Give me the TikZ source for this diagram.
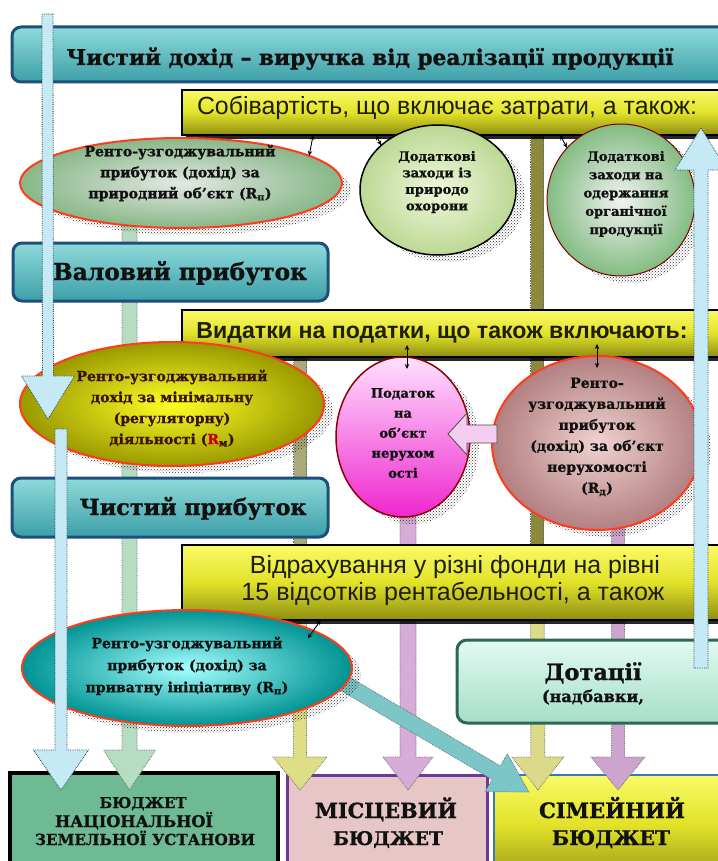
\documentclass[tikz,border=0pt]{standalone}
\usepackage{fontspec}
\setmainfont{DejaVu Serif}[BoldFeatures={FakeBold=1.2}]
\newfontfamily\sansf{Liberation Sans}
\usetikzlibrary{shapes.geometric,calc,patterns,shadows,arrows.meta}
\pgfdeclarelayer{low}
\pgfdeclarelayer{bg}
\pgfdeclarelayer{fg}
\pgfsetlayers{low,bg,main,fg}
\definecolor{boxblue}{HTML}{1D4F7C}
\definecolor{tealA}{HTML}{8FDADA}
\definecolor{tealB}{HTML}{3C9FA8}
\definecolor{yelA}{HTML}{FAFA66}
\definecolor{yelM}{HTML}{E2E22A}
\definecolor{yelB}{HTML}{8E8E12}
\definecolor{redline}{HTML}{FF3B1C}
\definecolor{txtdark}{HTML}{111111}
\definecolor{ytxt}{HTML}{1E1E00}
\definecolor{browntxt}{HTML}{3A1200}
\definecolor{rred}{HTML}{C40000}
\definecolor{colAc}{HTML}{B6DCC2}
\definecolor{colBup}{HTML}{A9A97A}
\definecolor{colBlo}{HTML}{DEDE86}
\definecolor{colCc}{HTML}{D6ACD8}
\definecolor{colDup}{HTML}{8A8A3E}
\definecolor{colDlo}{HTML}{DADA8A}
\definecolor{colEc}{HTML}{CDA4CD}
\definecolor{bluefill}{HTML}{C6EAF5}
\definecolor{bluedraw}{HTML}{2A4656}
\definecolor{tealarr}{HTML}{7CC6C8}
\definecolor{dotgreen}{HTML}{2B6A4E}
\definecolor{dotA}{HTML}{E2FAF2}
\definecolor{dotB}{HTML}{A6DEC8}
\definecolor{budgreen}{HTML}{6DBA95}
\definecolor{budpink}{HTML}{E6C6C6}
\definecolor{budpurple}{HTML}{6B3A96}
\definecolor{budblue}{HTML}{3A78BE}
\definecolor{pinkarr}{HTML}{F4CDF0}
\definecolor{ctwoA}{HTML}{F0F8DC}
\definecolor{ctwoB}{HTML}{BCD894}

\newcommand\fw[2]{\resizebox{#1}{!}{#2}}
% block arrow: start, tip, half shaft width, half head width, head length, style
\newcommand\blockarr[6]{%
  \coordinate (tmpH) at ($(#2)!#5!(#1)$);
  \path[#6] ($(#1)!#3!90:(#2)$) -- ($(tmpH)!#3!90:(#2)$) -- ($(tmpH)!#4!90:(#2)$) -- (#2)
    -- ($(tmpH)!#4!-90:(#2)$) -- ($(tmpH)!#3!-90:(#2)$) -- ($(#1)!#3!-90:(#2)$) -- cycle;}

\begin{document}
\begin{tikzpicture}[x=1pt,y=-1pt,
  every node/.style={inner sep=0pt,outer sep=0pt},
  tealbox/.style={anchor=north west, draw=boxblue, line width=3pt, rounded corners=9pt, top color=tealA, bottom color=tealB},
  yelbox/.style={anchor=north west, draw=black, line width=1.5pt, top color=yelA, bottom color=yelB, middle color=yelM,
     drop shadow={fill=black, opacity=0.85, shadow xshift=4pt, shadow yshift=-4pt}},
  ellshape/.style={ellipse, drop shadow={pattern=crosshatch dots, pattern color=black!80, opacity=1, shadow xshift=9pt, shadow yshift=-7pt}},
  bigtxt/.style={anchor=base, font=\bfseries\fontsize{20}{24}\selectfont, text=txtdark},
  ytxtst/.style={anchor=base, font=\sansf\fontsize{24}{27}\selectfont, text=ytxt},
  elltxt/.style={align=center, text=txtdark, font=\bfseries\fontsize{14}{21}\selectfont},
  colst/.style={draw=black!60, densely dotted, line width=0.7pt, fill=#1},
  bluest/.style={draw=bluedraw, densely dotted, line width=0.8pt, fill=bluefill},
  dbl/.style={{Stealth[length=5pt,width=4.5pt]}-{Stealth[length=5pt,width=4.5pt]}, line width=0.9pt, black}
]
\useasboundingbox (0,0) rectangle (717,861);

% ---------- bottom boxes ----------
\begin{pgfonlayer}{low}
\fill[white] (0,0) rectangle (717,861);
\node[anchor=north west, draw=black, line width=4pt, fill=budgreen, minimum width=268pt, minimum height=100pt] (bnat) at (10,773) {};
\node[anchor=north west, draw=budpurple, line width=3pt, fill=budpink, minimum width=200pt, minimum height=100pt] (bloc) at (287,775) {};
\node[anchor=north west, draw=budblue, line width=2.5pt, top color=yelA, bottom color=yelB!80!yelM, middle color=yelM, minimum width=250pt, minimum height=100pt] (bfam) at (494,775) {};
\end{pgfonlayer}

% ---------- main boxes ----------
\node[tealbox, minimum width=718pt, minimum height=55pt] (top) at (12,27) {};
\node[bigtxt] (toptxt) at (370,65) {\fw{607pt}{Чистий дохід – виручка від реалізації продукції}};

\node[yelbox, minimum width=548pt, minimum height=45pt] (yel1) at (182,90) {};
\node[ytxtst] (yel1t) at (447,115) {\fw{500pt}{Собівартість, що включає затрати, а також:}};

\node[tealbox, minimum width=315pt, minimum height=58pt] (val) at (13,243) {};
\node[bigtxt] (valt) at (180,280) {\fw{254pt}{Валовий прибуток}};

\node[yelbox, minimum width=548pt, minimum height=47pt] (yel2) at (182,310) {};
\node[ytxtst] (yel2t) at (442,338) {\fw{491pt}{\bfseries Видатки на податки, що також включають:}};

\node[tealbox, minimum width=316pt, minimum height=59pt] (net) at (12,478) {};
\node[bigtxt] (nett) at (193,515) {\fw{227pt}{Чистий прибуток}};

\node[yelbox, minimum width=548pt, minimum height=75pt] (yel3) at (182,545) {};
\node[ytxtst] (yel3a) at (455,573) {\fw{410pt}{Відрахування у різні фонди на рівні}};
\node[ytxtst] (yel3b) at (453,600) {\fw{423pt}{15 відсотків рентабельності, а також}};

\node[anchor=north west, draw=dotgreen, line width=3pt, rounded corners=10pt, top color=dotA, bottom color=dotB, minimum width=283pt, minimum height=83pt] (dot) at (457,640) {};
\node[bigtxt] (dott) at (593,680) {\fw{97pt}{Дотації}};
\node[bigtxt] (dott2) at (593,702) {\fw{102pt}{(надбавки,}};

% ---------- ellipses ----------
\node[ellshape, draw=redline, line width=2pt, inner color=green!8!gray!20, outer color=green!25!gray!75, minimum width=322pt, minimum height=90pt] (ell1) at (181,183) {};
\node[elltxt] (ell1t) at (180,173) {Ренто-узгоджувальний\\прибуток (дохід) за\\природний об’єкт (R\textsubscript{п})};

\node[ellshape, draw=black, line width=1.5pt, inner color=ctwoA, outer color=ctwoB, minimum width=156pt, minimum height=130pt] (c2) at (438,190) {};
\node[elltxt, font=\bfseries\fontsize{13}{16.5}\selectfont] (c2t) at (437,182) {Додаткові\\заходи із\\природо\\охорони};

\node[ellshape, draw=red!50!black, line width=1pt, inner color=gray!10, outer color=green!30!gray!75, minimum width=148pt, minimum height=152pt] (c3) at (621,200) {};
\node[elltxt, font=\bfseries\fontsize{13}{18.3}\selectfont] (c3t) at (626,194) {Додаткові\\заходи на\\одержання\\органічної\\продукції};

\node[ellshape, draw=redline, line width=2pt, inner color=yellow!85!white, outer color=yellow!60!black, minimum width=304pt, minimum height=124pt] (ell2) at (172,404) {};
\node[elltxt, text=browntxt] (ell2t) at (172,408) {Ренто-узгоджувальний\\дохід за мінімальну\\(регуляторну)\\діяльності (\textcolor{rred}{R}\textsubscript{м})};

\node[ellshape, draw=red!55!black, line width=1.5pt, top color=magenta!12, bottom color=magenta!70!purple!85, minimum width=134pt, minimum height=160pt] (pink) at (403,437) {};
\node[elltxt, font=\bfseries\fontsize{13}{20}\selectfont] (pinkt) at (403,433) {Податок\\на\\об’єкт\\нерухом\\ості};

\node[ellshape, draw=redline, line width=2pt, inner color=gray!20!pink!60, outer color=red!25!gray!80, minimum width=210pt, minimum height=174pt] (big) at (597,443) {};
\node[elltxt, font=\bfseries\fontsize{14}{21}\selectfont] (bigt) at (597,437) {Ренто-\\узгоджувальний\\прибуток\\(дохід) за об’єкт\\нерухомості\\(R\textsubscript{д})};

\node[ellshape, draw=redline, line width=2pt, inner color=cyan!35!white, outer color=teal!85!cyan, minimum width=330pt, minimum height=116pt] (ell4) at (187,668) {};
\node[elltxt, font=\bfseries\fontsize{14}{22}\selectfont] (ell4t) at (187,666) {Ренто-узгоджувальний\\прибуток (дохід) за\\приватну ініціативу (R\textsubscript{п})};

% left-pointing block arrow between the two lower-right ellipses
\coordinate (pas) at (497,434);
\coordinate (pat) at (448,434);
\blockarr{pas}{pat}{9pt}{21pt}{19pt}{fill=pinkarr, draw=black!70, line width=0.8pt}

% ---------- budget texts ----------
\node[bigtxt, font=\bfseries\fontsize{18}{20}\selectfont] (bn1) at (143,808) {\fw{87pt}{БЮДЖЕТ}};
\node[bigtxt, font=\bfseries\fontsize{18}{20}\selectfont] (bn2) at (134,827) {\fw{158pt}{НАЦІОНАЛЬНОЇ}};
\node[bigtxt, font=\bfseries\fontsize{18}{20}\selectfont] (bn3) at (145,845) {\fw{220pt}{ЗЕМЕЛЬНОЇ УСТАНОВИ}};
\node[bigtxt] (bl1) at (386,818) {\fw{142pt}{МІСЦЕВИЙ}};
\node[bigtxt] (bl2) at (388,845) {\fw{110pt}{БЮДЖЕТ}};
\node[bigtxt] (bf1) at (612,818) {\fw{146pt}{СІМЕЙНИЙ}};
\node[bigtxt] (bf2) at (611,845) {\fw{118pt}{БЮДЖЕТ}};

% ---------- columns behind ----------
\begin{pgfonlayer}{bg}
\coordinate (cAs) at (129.5,225); \coordinate (cAt) at (129.5,790);
\blockarr{cAs}{cAt}{7.5pt}{26pt}{40pt}{colst=colAc}
\coordinate (cBs) at (300,357); \coordinate (cBm) at (300,560); \coordinate (cBt) at (300,790);
\path[colst=colBup] ($(cBs)+(-6.5,0)$) rectangle ($(cBm)+(6.5,0)$);
\blockarr{cBm}{cBt}{6.5pt}{27pt}{33pt}{colst=colBlo}
\coordinate (cCs) at (408,500); \coordinate (cCt) at (408,790);
\blockarr{cCs}{cCt}{8pt}{25pt}{33pt}{colst=colCc}
\coordinate (cDs) at (537,130); \coordinate (cDm) at (537,560); \coordinate (cDt) at (538,790);
\path[colst=colDup] ($(cDs)+(-6.5,0)$) rectangle ($(cDm)+(6.5,0)$);
\blockarr{cDm}{cDt}{7pt}{26pt}{33pt}{colst=colDlo}
\coordinate (cEs) at (618,500); \coordinate (cEt) at (618,790);
\blockarr{cEs}{cEt}{6.5pt}{27pt}{33pt}{colst=colEc}
\coordinate (tds) at (320,669); \coordinate (tdt) at (529,792);
\blockarr{tds}{tdt}{8pt}{22pt}{38pt}{colst=tealarr}
\end{pgfonlayer}

% ---------- front arrows ----------
\begin{pgfonlayer}{fg}
\coordinate (b1s) at (47.5,14); \coordinate (b1t) at (48,419);
\blockarr{b1s}{b1t}{5.5pt}{26.5pt}{43pt}{bluest}
\coordinate (b2s) at (61,429); \coordinate (b2t) at (61,790);
\blockarr{b2s}{b2t}{6pt}{27.5pt}{40pt}{bluest}
\coordinate (b3s) at (701,668); \coordinate (b3t) at (701,128);
\blockarr{b3s}{b3t}{7pt}{26pt}{42pt}{bluest}

\draw[dbl] ($(yel1.south -| ell1.12)+(4,0)$) -- (ell1.12);
\draw[dbl] ($(yel1.south -| c2.142)+(-5,0)$) -- (c2.142);
\draw[dbl] ($(yel1.south -| c3.136)+(-7,0)$) -- (c3.136);
\draw[dbl] ($(pink.north)+(4,-12)$) -- ($(pink.north)+(4,12)$);
\draw[dbl] ($(big.north)+(0,-12)$) -- ($(big.north)+(0,12)$);
\draw[dbl] ($(yel3.south -| ell4.16)+(6,0)$) -- ($(ell4.16)+(-7,7)$);
\end{pgfonlayer}
\end{tikzpicture}
\end{document}
